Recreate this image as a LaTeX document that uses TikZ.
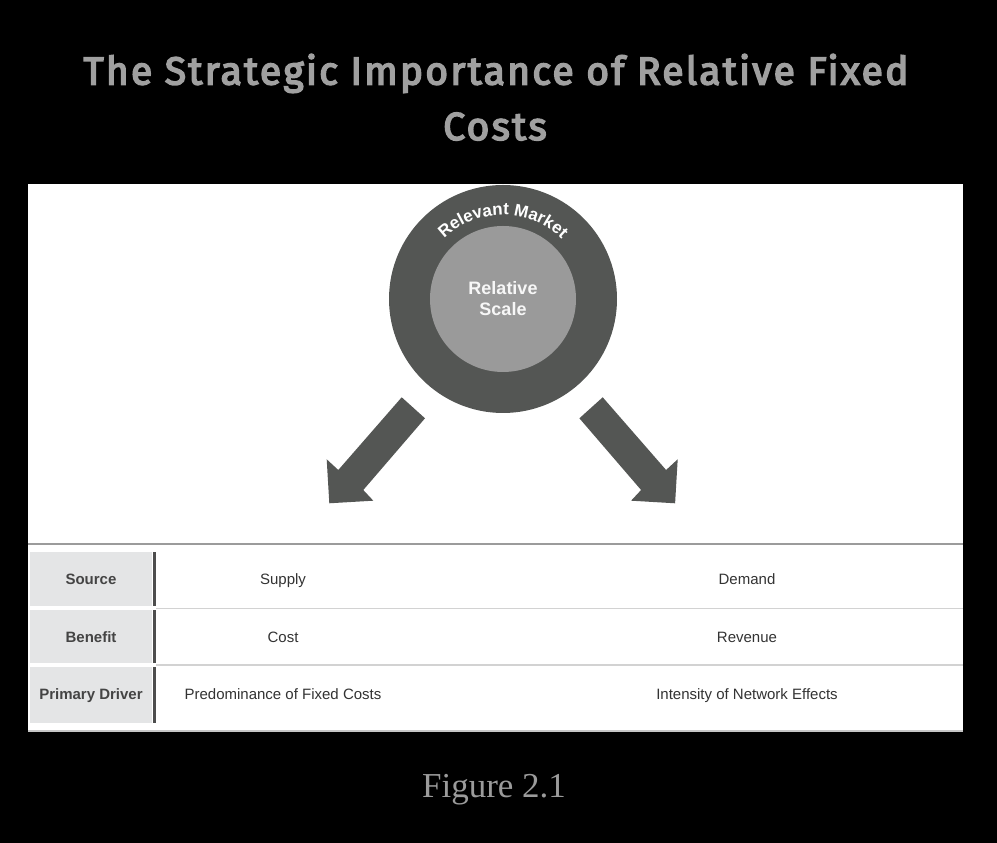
\documentclass[tikz,border=0pt]{standalone}
\usepackage{fontspec}
\setmainfont{Liberation Sans}
\newfontfamily\titlefont{Fira Sans}[LetterSpace=5.8, FakeBold=4]
\newfontfamily\figfont{Liberation Serif}
\usetikzlibrary{decorations.text}
\definecolor{titlegray}{HTML}{A0A0A0}
\definecolor{ringgray}{HTML}{545654}
\definecolor{coregray}{HTML}{9A9A9A}
\definecolor{cellgray}{HTML}{E4E5E6}
\definecolor{bargray}{HTML}{4D4D4D}
\definecolor{sepgray}{HTML}{D2D2D2}
\definecolor{rulegray}{HTML}{9B9B9B}
\definecolor{labeltext}{HTML}{444444}
\definecolor{celltext}{HTML}{333333}
\tikzset{
  titletext/.style={text=titlegray, font=\titlefont\fontsize{39}{48}\selectfont, anchor=base, inner sep=0},
  labelcell/.style={fill=cellgray, draw=none},
  bar/.style={fill=bargray, draw=none},
  labeltxt/.style={text=labeltext, font=\bfseries\fontsize{15}{18}\selectfont, inner sep=0, anchor=base},
  celltxt/.style={text=celltext, font=\fontsize{15}{18}\selectfont, inner sep=0, anchor=base},
  seprule/.style={draw=sepgray, line width=1.2pt},
  blockarrow/.style={fill=ringgray, draw=none},
}
\begin{document}
\begin{tikzpicture}[x=1pt,y=1pt]
\fill[black] (0,0) rectangle (997,843);
\useasboundingbox (0,0) rectangle (997,843);
% title
\node[titletext] (title1) at (496,758.5) {The Strategic Importance of Relative Fixed};
\node[titletext] (title2) at (495,703) {Costs};
% white panel
\fill[white] (28,111) rectangle (963,659);
% circles
\node[circle, fill=ringgray, minimum size=228pt, inner sep=0] (market) at (503,544) {};
\node[circle, fill=coregray, minimum size=146pt, inner sep=0, text=white!94!gray,
      font=\bfseries\fontsize{18}{21}\selectfont, align=center] (scale) at (503,544) {Relative\\Scale};
\path[decorate, decoration={text along path, text align=center,
      text={|\bfseries\fontsize{17}{17}\selectfont\color{white}|Relevant Market}}]
  (market.center) ++(135:84) arc[start angle=135, end angle=45, radius=84];
% block arrows
\fill[blockarrow] (401.7,445.7) -- (425,424.7) -- (363.3,353) -- (373.3,342.3)
  -- (329.3,339.7) -- (326.7,383.7) -- (338.3,373) -- cycle;
\begin{scope}[xshift=1004.4pt, xscale=-1]
\fill[blockarrow] (401.7,445.7) -- (425,424.7) -- (363.3,353) -- (373.3,342.3)
  -- (329.3,339.7) -- (326.7,383.7) -- (338.3,373) -- cycle;
\end{scope}
% table
\draw[draw=rulegray, line width=2pt] (28,299) -- (963,299);
\draw[draw=sepgray!85!gray, line width=1.5pt] (28,112) -- (963,112);
\fill[labelcell] (30,237) rectangle (152,291.3);
\fill[labelcell] (30,179.7) rectangle (152,233);
\fill[labelcell] (30,120.3) rectangle (152,175.7);
\fill[bar] (153,237) rectangle (156,291.3);
\fill[bar] (153,179.7) rectangle (156,233);
\fill[bar] (153,120.3) rectangle (156,175.7);
\draw[seprule] (156,234.7) -- (963,234.7);
\draw[seprule] (156,178) -- (963,178);
\node[labeltxt] (lsource) at (91,258) {Source};
\node[labeltxt] (lbenefit) at (91,200.5) {Benefit};
\node[labeltxt] (ldriver) at (91,143) {Primary Driver};
\node[celltxt] (supply) at (283,258) {Supply};
\node[celltxt] (demand) at (747,258) {Demand};
\node[celltxt] (cost) at (283,200.5) {Cost};
\node[celltxt] (revenue) at (747,200.5) {Revenue};
\node[celltxt] (fixed) at (283,143) {Predominance of Fixed Costs};
\node[celltxt] (network) at (747,143) {Intensity of Network Effects};
% caption
\node[text=titlegray!105, font=\figfont\fontsize{35}{40}\selectfont, anchor=base, inner sep=0] (caption) at (494,45) {Figure 2.1};
\end{tikzpicture}
\end{document}
